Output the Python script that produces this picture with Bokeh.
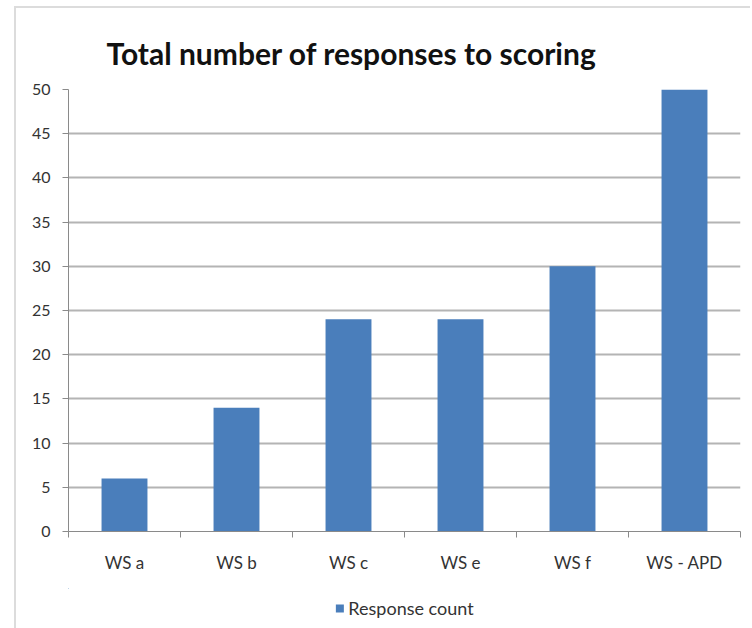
from bokeh.plotting import figure
from bokeh.layouts import column
from bokeh.models import FixedTicker, ColumnDataSource, Title
from bokeh.embed import file_html
from bokeh.resources import INLINE

categories = ["WS a", "WS b", "WS c", "WS e", "WS f", "WS - APD"]
counts = [6, 14, 24, 24, 30, 50]
y_ticks = [0, 5, 10, 15, 20, 25, 30, 35, 40, 45, 50]
series_name = "Response count"
title_text = "Total number of responses to scoring"

xpos = [i + 0.5 for i in range(len(categories))]
src = ColumnDataSource(dict(x=xpos, top=counts, cat=categories))

FONT = "Lato"
GRID = "#b4b4b4"
BAR = "#4a7ebb"

p = figure(width=734, height=580, output_backend="svg", toolbar_location=None,
           x_range=(0, len(categories)), y_range=(0, 50),
           min_border_left=52, min_border_right=10, min_border_top=81,
           min_border_bottom=57, outline_line_color=None)

p.title = Title(text=title_text, text_font=FONT, text_font_size="30px",
                text_font_style="bold", text_color="#111111", align="left",
                offset=38, standoff=38)

r = p.vbar(x="x", top="top", bottom=0, width=0.41, source=src,
           fill_color=BAR, line_color=None)

# x axis: labels at centres, tick marks at category boundaries
xt = FixedTicker(ticks=xpos, minor_ticks=list(range(len(categories) + 1)))
p.xaxis.ticker = xt
p.xaxis.major_label_overrides = {x: c for x, c in zip(xpos, categories)}
p.xaxis.major_tick_out = 0
p.xaxis.major_tick_in = 0
p.xaxis.minor_tick_out = 6
p.xaxis.minor_tick_in = 0
p.xaxis.minor_tick_line_color = "#8a8a8a"
p.xaxis.axis_line_color = "#8a8a8a"
p.xaxis.major_label_text_font = FONT
p.xaxis.major_label_text_font_size = "17px"
p.xaxis.major_label_text_color = "#333333"
p.xaxis.major_label_standoff = 14

p.yaxis.ticker = FixedTicker(ticks=y_ticks)
p.yaxis.major_tick_out = 6
p.yaxis.major_tick_in = 0
p.yaxis.minor_tick_line_color = None
p.yaxis.major_tick_line_color = "#8a8a8a"
p.yaxis.axis_line_color = "#8a8a8a"
p.yaxis.major_label_text_font = FONT
p.yaxis.major_label_text_font_size = "16px"
p.yaxis.major_label_text_color = "#333333"
p.yaxis.major_label_standoff = 12

p.xgrid.grid_line_color = None
p.ygrid.ticker = FixedTicker(ticks=y_ticks)
p.ygrid.grid_line_color = GRID
p.ygrid.grid_line_width = 2

# legend strip below the chart (the strip's view lies far away from its bars)
lg = figure(width=734, height=40, output_backend="svg", toolbar_location=None,
            x_range=(1000, 1001), y_range=(-1000, -999), min_border=0,
            outline_line_color=None)
lg.axis.visible = False
lg.grid.visible = False
lg.vbar(x="x", top="top", bottom=0, width=0.41, source=src,
        fill_color=BAR, line_color=None, legend_label=series_name)
lg.legend.location = "center"
lg.legend.orientation = "horizontal"
lg.legend.border_line_color = None
lg.legend.background_fill_alpha = 0
lg.legend.glyph_width = 10
lg.legend.glyph_height = 10
lg.legend.label_text_font = FONT
lg.legend.label_text_font_size = "18px"
lg.legend.label_text_color = "#333333"
lg.legend.padding = 2
lg.legend.margin = 0
lg.legend.label_standoff = 4

layout = column(p, lg, spacing=0, margin=(6, 0, 0, 14),
                styles={"border-left": "2px solid #dcdcdc",
                        "border-top": "2px solid #dcdcdc"})
open("out.html", "w").write(file_html(layout, INLINE))
